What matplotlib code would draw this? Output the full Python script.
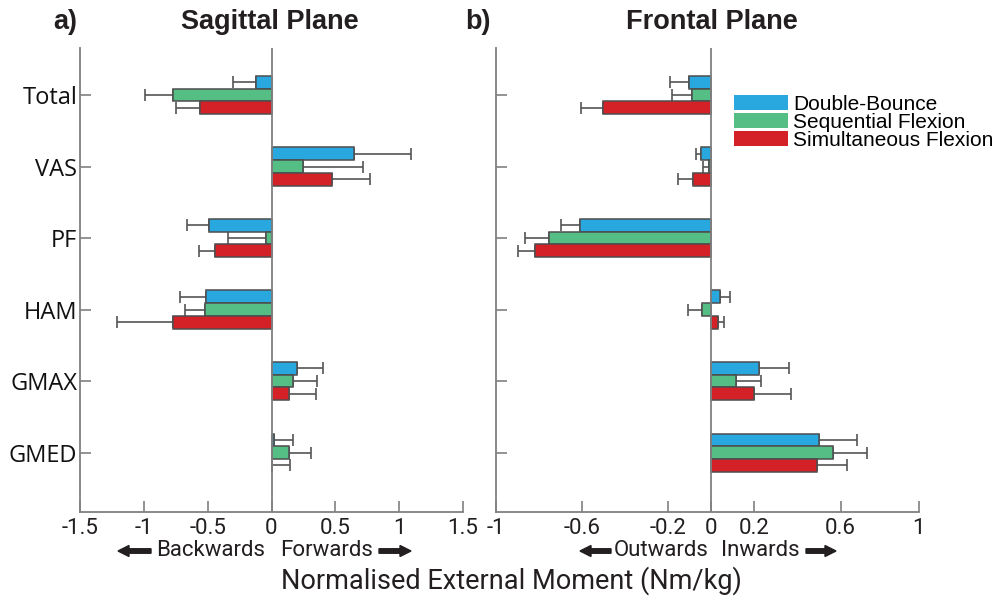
import numpy as np
import matplotlib.pyplot as plt
from matplotlib.patches import Patch, FancyArrow

muscles = ["Total", "VAS", "PF", "HAM", "GMAX", "GMED"]
series = ["Double-Bounce", "Sequential Flexion", "Simultaneous Flexion"]
colors = ["#29A8E0", "#55BE85", "#D42027"]

# Sagittal plane (mean, one-sided SD)
sag_db = [-0.124, 0.65, -0.49, -0.51, 0.20, 0.02]
sag_db_err = [0.18, 0.44, 0.17, 0.21, 0.20, 0.15]
sag_sf = [-0.77, 0.25, -0.04, -0.52, 0.17, 0.14]
sag_sf_err = [0.22, 0.47, 0.30, 0.16, 0.19, 0.17]
sag_sim = [-0.56, 0.47, -0.44, -0.77, 0.14, 0.005]
sag_sim_err = [0.19, 0.30, 0.13, 0.44, 0.21, 0.14]

# Frontal plane
fro_db = [-0.105, -0.046, -0.609, 0.040, 0.223, 0.498]
fro_db_err = [0.088, 0.025, 0.087, 0.048, 0.136, 0.179]
fro_sf = [-0.088, -0.009, -0.755, -0.043, 0.116, 0.566]
fro_sf_err = [0.096, 0.028, 0.111, 0.065, 0.113, 0.155]
fro_sim = [-0.504, -0.086, -0.821, 0.031, 0.200, 0.489]
fro_sim_err = [0.102, 0.070, 0.077, 0.027, 0.168, 0.142]

sag_ticks = [-1.5, -1, -0.5, 0, 0.5, 1, 1.5]
sag_ticklabels = ["-1.5", "-1", "-0.5", "0", "0.5", "1", "1.5"]
fro_ticks = [-1, -0.6, -0.2, 0, 0.2, 0.6, 0.963]
fro_ticklabels = ["-1", "-0.6", "-0.2", "0", "0.2", "0.6", "1"]

W, H = 1002, 601
fig = plt.figure(figsize=(W / 100, H / 100), dpi=100)

GRAY = "#808080"
TXT = "#231f20"
NARROW = ["Roboto", "DejaVu Sans"]

def px_ax(x0, x1, y0, y1):
    return fig.add_axes([x0 / W, 1 - y1 / H, (x1 - x0) / W, (y1 - y0) / H])

axL = px_ax(80, 463, 48, 512)
axR = px_ax(496, 918.7, 48, 512)

bar_h = 0.178
y = np.arange(len(muscles))

def draw(ax, vals, errs, xlim, ticks, ticklabels):
    for i, (v, e) in enumerate(zip(vals, errs)):
        v = np.array(v)
        e = np.array(e)
        pos = y + (i - 1) * bar_h
        ax.barh(pos, v, height=bar_h, color=colors[i], edgecolor="#4d4d4d",
                linewidth=1.1, zorder=3)
        lower = np.where(v < 0, e, 0)
        upper = np.where(v >= 0, e, 0)
        ax.errorbar(v, pos, xerr=[lower, upper], fmt="none", ecolor="#555555",
                    elinewidth=1.2, capsize=4, capthick=1.2, zorder=2)
    ax.axvline(0, color=GRAY, lw=1.3, zorder=4)
    ax.set_xlim(*xlim)
    ax.set_ylim(5.83, -0.657)
    ax.set_yticks(y)
    ax.set_xticks(ticks)
    ax.set_xticklabels(ticklabels, family=NARROW, fontsize=16, color=TXT)
    for s in ["top", "right"]:
        ax.spines[s].set_visible(False)
    for s in ["left", "bottom"]:
        ax.spines[s].set_color(GRAY)
        ax.spines[s].set_linewidth(1.3)
    ax.tick_params(axis="both", direction="in", length=8, width=1.2, color=GRAY)
    ax.tick_params(axis="x", pad=4)
    ax.tick_params(axis="y", pad=2)

draw(axL, [sag_db, sag_sf, sag_sim], [sag_db_err, sag_sf_err, sag_sim_err],
     (-1.5, 1.5), sag_ticks, sag_ticklabels)
draw(axR, [fro_db, fro_sf, fro_sim], [fro_db_err, fro_sf_err, fro_sim_err],
     (-1, 0.963), fro_ticks, fro_ticklabels)

axL.set_yticklabels(muscles, family="Open Sans", fontsize=17, color="#111111")
axR.set_yticklabels([])

def ftext(x, yy, s, **kw):
    fig.text(x / W, 1 - yy / H, s, **kw)

for x, s in [(65, "a)"), (270, "Sagittal Plane"), (478, "b)"), (712, "Frontal Plane")]:
    ftext(x, 22, s, ha="center", va="center", fontsize=19.5, fontweight="bold",
          family="Liberation Sans", color=TXT)

# direction labels
for x, s in [(211, "Backwards"), (327, "Forwards"), (661, "Outwards"), (760, "Inwards")]:
    ftext(x, 551, s, ha="center", va="center", fontsize=16, family=NARROW, color=TXT)

def arrow(x_from, x_to, yy):
    fig.patches.append(FancyArrow(
        x_from / W, 1 - yy / H, (x_to - x_from) / W, 0, width=4.5 / H,
        head_width=11 / H, head_length=11 / W, length_includes_head=True,
        color=TXT, transform=fig.transFigure, figure=fig))

arrow(151, 118, 551)
arrow(379, 411, 551)
arrow(611, 580, 551)
arrow(806, 836, 551)

ftext(511, 581, "Normalised External Moment (Nm/kg)", ha="center", va="center",
      fontsize=19.5, family=NARROW, color=TXT)

handles = [Patch(facecolor=c, edgecolor="none") for c in colors]
fig.legend(handles, series, loc="upper left", bbox_to_anchor=(734 / W, 1 - 95 / H),
           frameon=False, prop={"family": "Liberation Sans", "size": 15},
           handlelength=2.6, handleheight=0.75, handletextpad=0.25,
           labelspacing=-0.05, borderpad=0, borderaxespad=0)

fig.savefig("out.png", dpi=100)
